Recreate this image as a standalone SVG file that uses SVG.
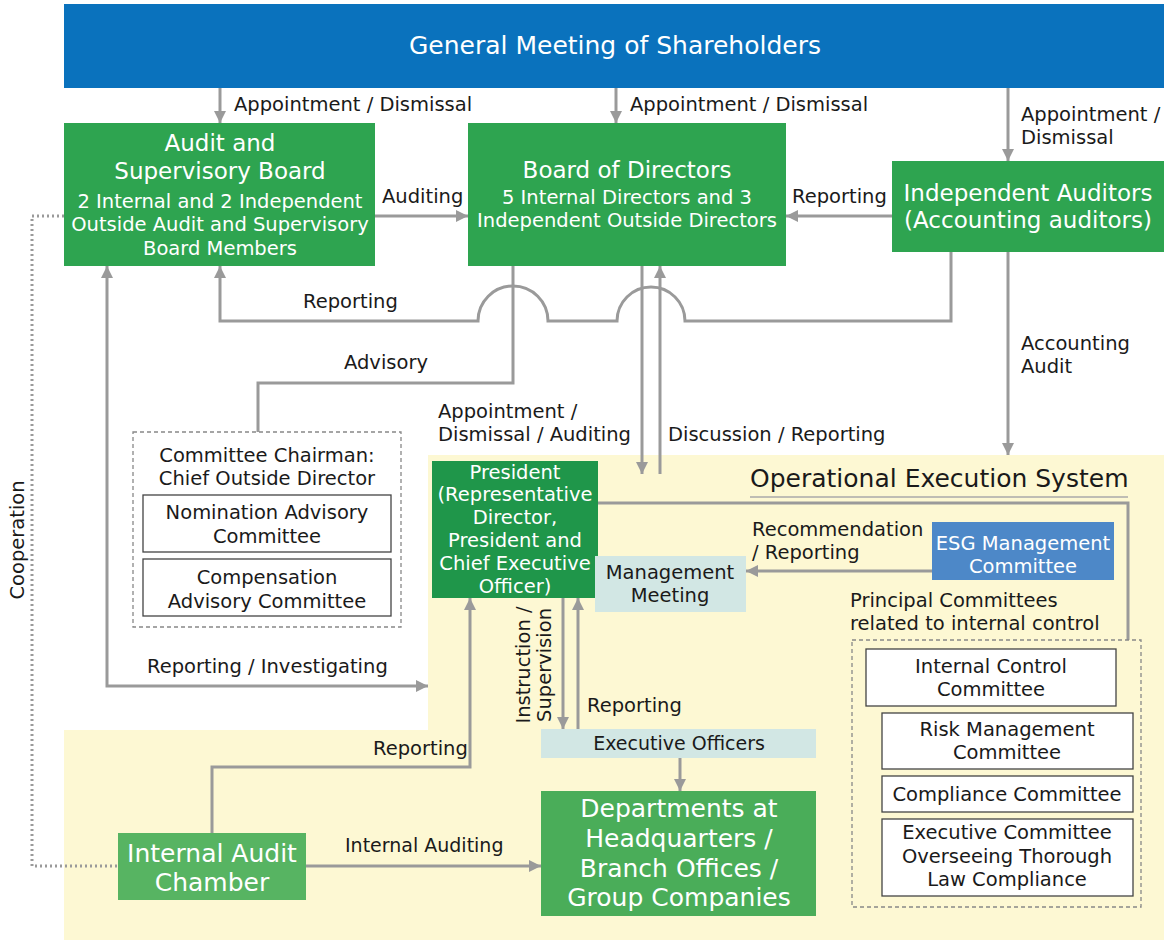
<svg xmlns="http://www.w3.org/2000/svg" width="1164" height="940" viewBox="0 0 1164 940">
<defs>
<style>
text{font-family:"DejaVu Sans","Noto Sans","Liberation Sans",sans-serif;fill:#1a1a1a}
.w{fill:#fff}
.c{text-anchor:middle}
.t19{font-size:19.5px}
.t18{font-size:19px}
.t23{font-size:23px}
.t25{font-size:25px}
.con{fill:none;stroke:#9a9a9a;stroke-width:3}
.green{fill:#2ea450}
.dk{fill:#1f964a}
.lg{fill:#4aad59}
.lb{fill:#d2e7e4}
.wb{fill:#fff;stroke:#444;stroke-width:1.3}
.dash{fill:none;stroke:#888;stroke-width:1.3;stroke-dasharray:4,3}
</style>
<marker id="ah" viewBox="0 0 10 10" refX="10" refY="5" markerWidth="12" markerHeight="12" markerUnits="userSpaceOnUse" orient="auto-start-reverse">
<path d="M0,0 L10,5 L0,10 z" fill="#9a9a9a"/>
</marker>
</defs>
<rect width="1164" height="940" fill="#fff"/>
<path d="M428,455 H1164 V940 H64 V730 H428 Z" fill="#fdf8d3"/>

<g id="banner">
<rect x="64" y="4" width="1100" height="84" fill="#0a72bd"/>
<text class="w c" x="615" y="54" font-size="25">General Meeting of Shareholders</text>
</g>

<g id="connectors">
<path class="con" d="M220,88 V123" marker-end="url(#ah)"/>
<path class="con" d="M616,88 V123" marker-end="url(#ah)"/>
<path class="con" d="M1008,88 V161" marker-end="url(#ah)"/>
<path class="con" d="M375,216 H468" marker-end="url(#ah)"/>
<path class="con" d="M892,216 H786" marker-end="url(#ah)"/>
<path class="con" d="M951,252 V321 H685 A34,34 0 0 0 617,321 H548 A35,35 0 0 0 478,321 H220 V266" marker-end="url(#ah)"/>
<path class="con" d="M513,266 V383 H258 V432"/>
<path class="con" d="M642,266 V474" marker-end="url(#ah)"/>
<path class="con" d="M660,474 V266" marker-end="url(#ah)"/>
<path class="con" d="M1008,252 V455" marker-end="url(#ah)"/>
<path class="con" d="M428,686 H107 V266" marker-start="url(#ah)" marker-end="url(#ah)"/>
<path d="M64,216 H32 V866 H118" fill="none" stroke="#9a9a9a" stroke-width="3" stroke-dasharray="2,3"/>
<path class="con" d="M598,503 H1128 V640"/>
<path class="con" d="M932,571 H746" marker-end="url(#ah)"/>
<path class="con" d="M563,598 V729" marker-end="url(#ah)"/>
<path class="con" d="M578,729 V598" marker-end="url(#ah)"/>
<path class="con" d="M680,758 V791" marker-end="url(#ah)"/>
<path class="con" d="M212,833 V767 H470 V598" marker-end="url(#ah)"/>
<path class="con" d="M306,866 H541" marker-end="url(#ah)"/>
</g>

<g id="labels">
<text class="t19" x="234" y="111">Appointment / Dismissal</text>
<text class="t19" x="630" y="111">Appointment / Dismissal</text>
<text class="t19" x="1021" y="121">Appointment /</text>
<text class="t19" x="1021" y="144">Dismissal</text>
<text class="t19" x="382" y="203">Auditing</text>
<text class="t19" x="792" y="203">Reporting</text>
<text class="t19" x="303" y="308">Reporting</text>
<text class="t19" x="344" y="369">Advisory</text>
<text class="t19" x="1021" y="350">Accounting</text>
<text class="t19" x="1021" y="373">Audit</text>
<text class="t19" x="438" y="418">Appointment /</text>
<text class="t19" x="438" y="441">Dismissal / Auditing</text>
<text class="t19" x="668" y="441">Discussion / Reporting</text>
<text class="t19" x="147" y="673">Reporting / Investigating</text>
<text class="t19" x="752" y="536">Recommendation</text>
<text class="t19" x="752" y="559">/ Reporting</text>
<text class="t19" x="850" y="607">Principal Committees</text>
<text class="t19" x="850" y="630">related to internal control</text>
<text class="t19" x="587" y="712">Reporting</text>
<text class="t19" x="373" y="755">Reporting</text>
<text class="t18" x="345" y="852">Internal Auditing</text>
<text class="t19 c" transform="translate(24,540) rotate(-90)">Cooperation</text>
<text class="t19 c" transform="translate(530,665) rotate(-90)">Instruction /</text>
<text class="t19 c" transform="translate(551,665) rotate(-90)">Supervision</text>
</g>

<g id="audit-board">
<rect class="green" x="64" y="123" width="311" height="143"/>
<text class="w c t23" x="220" y="151">Audit and</text>
<text class="w c t23" x="220" y="179">Supervisory Board</text>
<text class="w c t19" x="220" y="208">2 Internal and 2 Independent</text>
<text class="w c t19" x="220" y="231">Outside Audit and Supervisory</text>
<text class="w c t19" x="220" y="255">Board Members</text>
</g>

<g id="board-of-directors">
<rect class="green" x="468" y="123" width="318" height="143"/>
<text class="w c t23" x="627" y="178">Board of Directors</text>
<text class="w c t19" x="627" y="204">5 Internal Directors and 3</text>
<text class="w c t19" x="627" y="227">Independent Outside Directors</text>
</g>

<g id="independent-auditors">
<rect class="green" x="892" y="161" width="272" height="91"/>
<text class="w c t23" x="1028" y="201">Independent Auditors</text>
<text class="w c t23" x="1028" y="228">(Accounting auditors)</text>
</g>

<g id="advisory-committees">
<rect class="dash" x="133" y="432" width="268" height="195"/>
<text class="c t19" x="267" y="462">Committee Chairman:</text>
<text class="c t19" x="267" y="485">Chief Outside Director</text>
<rect class="wb" x="143" y="495" width="248" height="57"/>
<text class="c t19" x="267" y="519">Nomination Advisory</text>
<text class="c t19" x="267" y="543">Committee</text>
<rect class="wb" x="143" y="559" width="248" height="57"/>
<text class="c t19" x="267" y="584">Compensation</text>
<text class="c t19" x="267" y="608">Advisory Committee</text>
</g>

<g id="oes-title">
<text x="750" y="487" font-size="25">Operational Execution System</text>
<line x1="750" y1="497" x2="1128" y2="497" stroke="#aaa" stroke-width="1.5"/>
</g>

<g id="president">
<rect class="dk" x="432" y="461" width="166" height="137"/>
<text class="w c t19" x="515" y="479">President</text>
<text class="w c t19" x="515" y="501">(Representative</text>
<text class="w c t19" x="515" y="524">Director,</text>
<text class="w c t19" x="515" y="547">President and</text>
<text class="w c t19" x="515" y="570">Chief Executive</text>
<text class="w c t19" x="515" y="593">Officer)</text>
</g>

<g id="management-meeting">
<rect class="lb" x="595" y="556" width="151" height="56"/>
<text class="c t19" x="670" y="579">Management</text>
<text class="c t19" x="670" y="602">Meeting</text>
</g>

<g id="esg">
<rect x="932" y="522" width="182" height="58" fill="#4d88c8"/>
<text class="w c t19" x="1023" y="550">ESG Management</text>
<text class="w c t19" x="1023" y="573">Committee</text>
</g>

<g id="principal-committees">
<rect class="dash" x="852" y="640" width="289" height="267"/>
<rect class="wb" x="866" y="649" width="250" height="57"/>
<text class="c t19" x="991" y="673">Internal Control</text>
<text class="c t19" x="991" y="696">Committee</text>
<rect class="wb" x="882" y="713" width="251" height="56"/>
<text class="c t19" x="1007" y="736">Risk Management</text>
<text class="c t19" x="1007" y="759">Committee</text>
<rect class="wb" x="882" y="776" width="251" height="36"/>
<text class="c t19" x="1007" y="801">Compliance Committee</text>
<rect class="wb" x="882" y="819" width="251" height="77"/>
<text class="c t19" x="1007" y="839">Executive Committee</text>
<text class="c t19" x="1007" y="863">Overseeing Thorough</text>
<text class="c t19" x="1007" y="886">Law Compliance</text>
</g>

<g id="executive-officers">
<rect class="lb" x="541" y="729" width="275" height="29"/>
<text class="c t18" x="679" y="750">Executive Officers</text>
</g>

<g id="departments">
<rect class="lg" x="541" y="791" width="275" height="125"/>
<text class="w c t25" x="679" y="817">Departments at</text>
<text class="w c t25" x="679" y="847">Headquarters /</text>
<text class="w c t25" x="679" y="877">Branch Offices /</text>
<text class="w c t25" x="679" y="906">Group Companies</text>
</g>

<g id="internal-audit-chamber">
<rect x="118" y="833" width="188" height="67" fill="#57b462"/>
<text class="w c t25" x="212" y="862">Internal Audit</text>
<text class="w c t25" x="212" y="891">Chamber</text>
</g>
</svg>
